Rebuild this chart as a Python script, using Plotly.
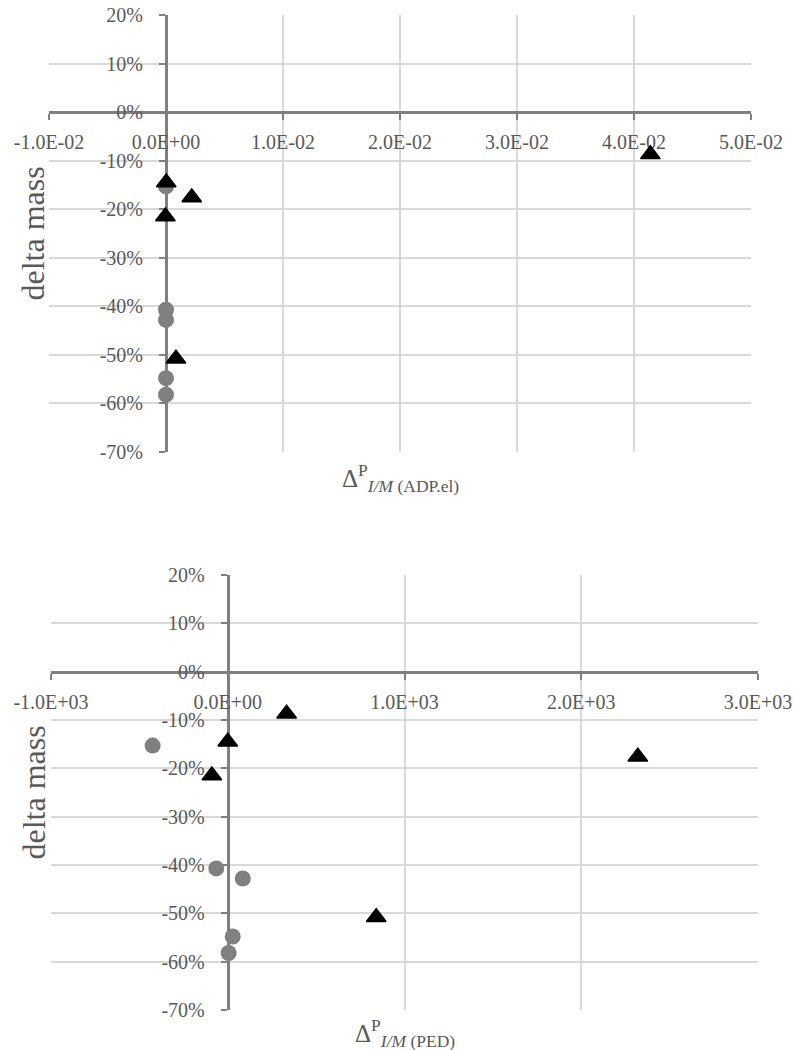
import plotly.graph_objects as go

# ---- data -------------------------------------------------------------
# delta mass (fraction) for the two sample groups
circle_mass = [-0.153, -0.407, -0.428, -0.548, -0.582]
triangle_mass = [-0.087, -0.145, -0.176, -0.215, -0.508]

# Δ^P I/M (ADP.el)
circle_adp = [0.00000, 0.00000, 0.00000, 0.00000, 0.00000]
triangle_adp = [0.0414, 0.00002, 0.0022, -0.00005, 0.00085]

# Δ^P I/M (PED)
circle_ped = [-425, -65, 85, 28, 5]
triangle_ped = [333, 0, 2320, -90, 840]

# axis ticks
adp_ticks = [-0.01, 0.0, 0.01, 0.02, 0.03, 0.04, 0.05]
ped_ticks = [-1000, 0, 1000, 2000, 3000]
mass_ticks = [0.2, 0.1, 0.0, -0.1, -0.2, -0.3, -0.4, -0.5, -0.6, -0.7]
mass_labels = ["20%", "10%", "0%", "-10%", "-20%", "-30%", "-40%", "-50%", "-60%", "-70%"]

# ---- styling ----------------------------------------------------------
W, H = 794, 1050
FONT = "'Liberation Serif', 'Times New Roman', Times, 'DejaVu Serif', serif"
TXT = "#595959"
AXC = "#808080"
GRID = "#d9d9d9"


def sci(v):
    return f"{v:.1E}"


def px_x(p):
    return p / W


def px_y(p):
    return 1 - p / H


fig = go.Figure()

panels = [
    dict(xs_c=circle_adp, xs_t=triangle_adp, ticks=adp_ticks,
         left=49, right=751, top=15, bottom=452,
         xa="x", ya="y", xo="x3", yo="y3",
         title="Δ<sup>P</sup><sub><i>I/M</i> (ADP.el)</sub>", title_y=478),
    dict(xs_c=circle_ped, xs_t=triangle_ped, ticks=ped_ticks,
         left=51, right=758, top=575, bottom=1010,
         xa="x2", ya="y2", xo="x4", yo="y4",
         title="Δ<sup>P</sup><sub><i>I/M</i> (PED)</sub>", title_y=1033),
]

layout = dict(
    template="none",
    width=W, height=H, margin=dict(l=0, r=0, t=0, b=0, pad=0, autoexpand=False),
    paper_bgcolor="white", plot_bgcolor="white", showlegend=False,
    font=dict(family=FONT, color=TXT),
)
annotations = []

for p in panels:
    xr = [p["ticks"][0], p["ticks"][-1]]
    yr = [mass_ticks[-1], mass_ticks[0]]
    xdom = [px_x(p["left"]), px_x(p["right"])]
    ydom = [px_y(p["bottom"]), px_y(p["top"])]
    # paper position of the zero lines so axes cross at the origin
    ypos = ydom[0] + (0 - yr[0]) / (yr[1] - yr[0]) * (ydom[1] - ydom[0])
    xpos = xdom[0] + (0 - xr[0]) / (xr[1] - xr[0]) * (xdom[1] - xdom[0])

    fig.add_trace(go.Scatter(
        x=p["xs_c"], y=circle_mass, mode="markers", xaxis=p["xa"], yaxis=p["ya"],
        marker=dict(symbol="circle", size=16, color="#808080",
                    line=dict(width=0)),
    ))
    fig.add_trace(go.Scatter(
        x=p["xs_t"], y=triangle_mass, mode="markers", xaxis=p["xa"], yaxis=p["ya"],
        marker=dict(symbol="triangle-up", size=17, color="#000000",
                    line=dict(width=1.5, color="#000000")),
    ))

    xkey = "xaxis" + p["xa"][1:]
    ykey = "yaxis" + p["ya"][1:]
    xokey = "xaxis" + p["xo"][1:]
    yokey = "yaxis" + p["yo"][1:]

    layout[xkey] = dict(
        domain=xdom, range=xr, anchor="free", position=ypos, automargin=False,
        tickvals=p["ticks"], ticktext=[sci(v) for v in p["ticks"]],
        ticks="outside", ticklen=6, tickwidth=2, tickcolor=AXC,
        showline=True, linecolor=AXC, linewidth=3,
        showgrid=True, gridcolor=GRID, gridwidth=1.5, zeroline=False,
        tickfont=dict(family=FONT, size=20, color=TXT),
        ticklabelstandoff=5, layer="below traces", fixedrange=True,
    )
    layout[ykey] = dict(
        domain=ydom, range=yr, anchor="free", position=xpos, automargin=False,
        tickvals=mass_ticks, ticktext=mass_labels,
        ticks="outside", ticklen=6, tickwidth=2, tickcolor=AXC,
        showline=True, linecolor=AXC, linewidth=3,
        showgrid=True, gridcolor=GRID, gridwidth=1.5, zeroline=False,
        tickfont=dict(family=FONT, size=20, color=TXT),
        ticklabelstandoff=12, layer="below traces", fixedrange=True,
    )
    # second copy of each axis draws the other half of the crossing ticks
    layout[xokey] = dict(
        domain=xdom, range=xr, anchor="free", position=ypos, overlaying=p["xa"],
        automargin=False,
        tickvals=p["ticks"], ticks="inside", ticklen=6, tickwidth=2, tickcolor=AXC,
        showticklabels=False, showgrid=False, showline=False, zeroline=False,
        layer="below traces", fixedrange=True,
    )
    layout[yokey] = dict(
        domain=ydom, range=yr, anchor="free", position=xpos, overlaying=p["ya"],
        automargin=False,
        tickvals=mass_ticks, ticks="inside", ticklen=6, tickwidth=2, tickcolor=AXC,
        showticklabels=False, showgrid=False, showline=False, zeroline=False,
        layer="below traces", fixedrange=True,
    )

    annotations.append(dict(
        text="delta mass", x=px_x(33), y=(ydom[0] + ydom[1]) / 2,
        xref="paper", yref="paper", textangle=-90, showarrow=False,
        font=dict(family=FONT, size=32, color=TXT), xanchor="center", yanchor="middle",
    ))
    annotations.append(dict(
        text=p["title"], x=(xdom[0] + xdom[1]) / 2, y=px_y(p["title_y"]),
        xref="paper", yref="paper", showarrow=False,
        font=dict(family=FONT, size=25, color=TXT), xanchor="center", yanchor="middle",
    ))

layout["annotations"] = annotations
fig.update_layout(**layout)

fig.write_html("out.html")
